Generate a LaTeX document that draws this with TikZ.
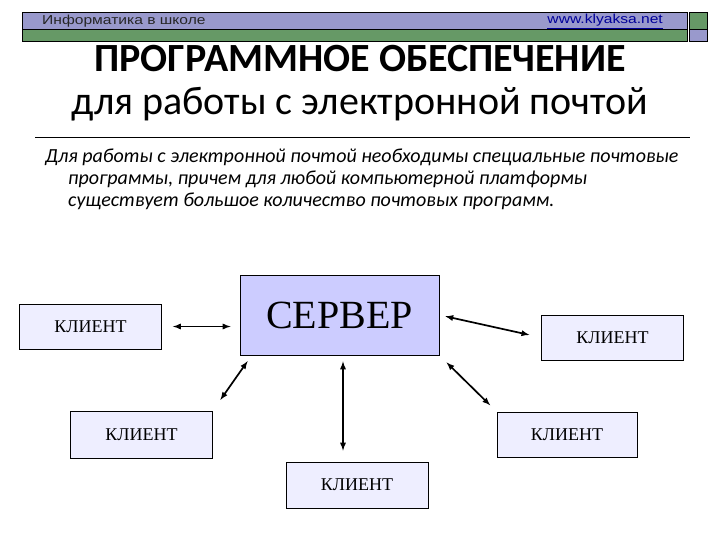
\documentclass[tikz,border=0pt]{standalone}
\usepackage{fontspec}
\usepackage{tikz}
\usetikzlibrary{arrows}
\setmainfont{Liberation Serif}
\newfontfamily\titlefont{Carlito}
\newfontfamily\hdrfont[FakeStretch=1.2]{Liberation Sans}

\definecolor{hdrblue}{RGB}{153,153,204}
\definecolor{hdrgreen}{RGB}{102,153,102}
\definecolor{servfill}{RGB}{204,204,255}
\definecolor{clifill}{RGB}{238,238,255}
\definecolor{linkblue}{RGB}{0,0,153}

\tikzset{
	client/.style={draw, line width=0.8pt, fill=clifill, inner sep=0pt,
		minimum width=142pt, minimum height=45pt,
		font=\fontsize{18}{20}\selectfont},
	link/.style={latex-latex, line width=1.7pt}
}

\begin{document}
\begin{tikzpicture}[x=1pt, y=-1pt]
		\useasboundingbox (0,0) rectangle (720,540);
		
		% Header bars
		\fill[hdrblue] (22,12) rectangle (687,29);
		\fill[hdrgreen] (22,29) rectangle (687,41);
		\fill[hdrgreen] (689,12) rectangle (707,29);
		\fill[hdrblue] (689,29) rectangle (707,41);
		\draw[line width=0.8pt] (22,12) rectangle (687,41);
		\draw[line width=0.8pt] (22,29) -- (687,29);
		\draw[line width=0.8pt] (689,12) rectangle (707,41);
		\draw[line width=0.8pt] (689,29) -- (707,29);
		\node[anchor=base west, inner sep=0pt, text=black!85, font=\hdrfont\fontsize{13}{14}\selectfont] (school) at (42,25) {Информатика в школе};
		\node[anchor=base east, inner sep=0pt, text=linkblue, font=\hdrfont\fontsize{13}{14}\selectfont] (site) at (663,24) {\underline{www.klyaksa.net}};
		
		% Title
		\node[font=\titlefont\bfseries\fontsize{40}{44}\selectfont] (title) at (360,59) {ПРОГРАММНОЕ ОБЕСПЕЧЕНИЕ};
		\node[font=\titlefont\fontsize{40}{44}\selectfont] (subtitle) at (360,104) {для работы с электронной почтой};
		\draw[line width=0.8pt] (35,137) -- (690,137);
		
		% Text
		\node[anchor=north west, inner sep=0pt, align=left, font=\titlefont\itshape\fontsize{20}{22}\selectfont] (intro) at (45,149) {Для работы с электронной почтой необходимы специальные почтовые\\
			\hspace*{23pt}программы, причем для любой компьютерной платформы\\
			\hspace*{23pt}существует большое количество почтовых программ.};
		
		% Server and clients
		\node[draw, line width=0.8pt, fill=servfill, inner sep=0pt, minimum width=199pt, minimum height=80pt,
			font=\fontsize{40}{44}\selectfont] (server) at (339.5,315) {СЕРВЕР};
		\node[client] (clientL) at (90.5,326.5) {КЛИЕНТ};
		\node[client] (clientR) at (612.5,337.5) {КЛИЕНТ};
		\node[client, minimum height=47pt] (clientBL) at (141.5,434.5) {КЛИЕНТ};
		\node[client, minimum width=140pt] (clientBR) at (567,434.5) {КЛИЕНТ};
		\node[client, minimum height=46pt] (clientB) at (357,485) {КЛИЕНТ};
		
		% Connections
		\draw[link, shorten <=11pt, shorten >=9pt] (clientL.east) -- (clientL.east -| server.west);
		\draw[link, shorten <=6pt, shorten >=12pt] (server.east) -- (clientR.west);
		\draw[link, shorten <=7pt, shorten >=13pt] ([xshift=12pt]server.south west) -- (clientBL.north east);
		\draw[link, shorten <=6pt, shorten >=11pt] ([xshift=3.5pt]server.south) -- ([xshift=3.5pt]server.south |- clientB.north);
		\draw[link, shorten <=10pt, shorten >=9pt] (server.south east) -- (clientBR.north west);
	\end{tikzpicture}
\end{document}
